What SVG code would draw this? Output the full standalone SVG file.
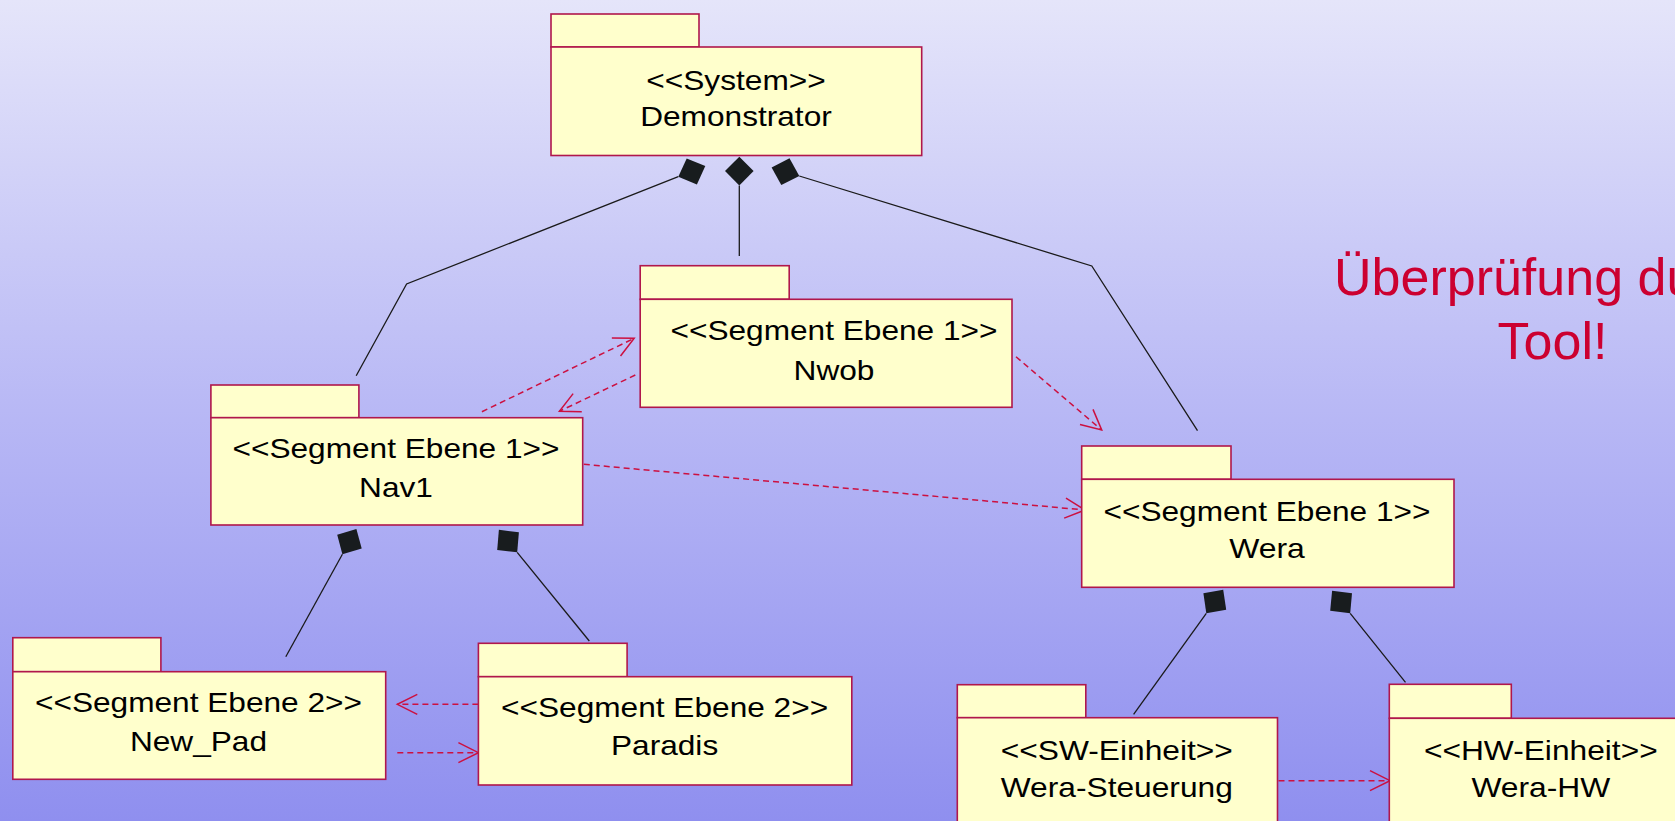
<svg xmlns="http://www.w3.org/2000/svg" width="1675" height="821" viewBox="0 0 1675 821">
  <defs>
    <linearGradient id="bg" x1="0" y1="0" x2="0" y2="1">
      <stop offset="0" stop-color="#e5e5fa"/>
      <stop offset="0.5" stop-color="#b8b8f5"/>
      <stop offset="1" stop-color="#8f8fef"/>
    </linearGradient>
    <marker id="open" markerUnits="userSpaceOnUse" viewBox="-22 -12 24 24" markerWidth="24" markerHeight="24" refX="0" refY="0" orient="auto" overflow="visible">
      <path d="M-20,-10 L0,0 L-20,10" fill="none" stroke="#cc1040" stroke-width="1.5"/>
    </marker>
    <style>
      .pkg { fill: #ffffcc; stroke: #b0174c; stroke-width: 1.6; }
      .lbl { font-family: "Liberation Sans", Arial, sans-serif; font-size: 28.5px; fill: #000; text-anchor: middle; }
      .comp { fill: none; stroke: #1a1a1a; stroke-width: 1.3; }
      .dia { fill: #181c1e; stroke: none; }
      .dep { fill: none; stroke: #cc1040; stroke-width: 1.5; stroke-dasharray: 6 4; marker-end: url(#open); }
      .note { font-family: "Liberation Sans", Arial, sans-serif; font-size: 52px; fill: #cc0030; }
    </style>
  </defs>

  <rect x="0" y="0" width="1675" height="821" fill="url(#bg)"/>

  <!-- composition links with filled diamonds at the owning package -->
  <g id="connectors">
    <polyline class="comp" points="678.3,176.7 406.6,284 356.2,375.7"/>
    <polyline class="comp" points="739.3,185.5 739.3,256"/>
    <polyline class="comp" points="799.3,176 1091.8,266 1197.5,430.7"/>
    <polyline class="comp" points="342.4,554.3 285.8,656.7"/>
    <polyline class="comp" points="517.2,552.3 589.3,641"/>
    <polyline class="comp" points="1206.3,613.3 1133.6,714.3"/>
    <polyline class="comp" points="1350.2,613.3 1405.5,682.3"/>

    <polygon class="dia" points="705.3,166.1 696.9,184.4 678.3,176.7 686.7,158.4"/>
    <polygon class="dia" points="739.3,156.7 753.6,171.1 739.3,185.5 725,171.1"/>
    <polygon class="dia" points="771.6,167.5 789.5,158.3 799.3,176 781.3,185.1"/>
    <polygon class="dia" points="356.4,528.9 361.7,548.4 342.4,554.3 337.2,534.8"/>
    <polygon class="dia" points="498.9,529.8 518.9,532.2 517.2,552.3 497.2,549.9"/>
    <polygon class="dia" points="1223.2,589.8 1226.2,609.7 1206.3,613.3 1203.4,593.3"/>
    <polygon class="dia" points="1332.1,590.7 1352,593.3 1350.2,613.3 1330.2,610.8"/>

    <!-- dependencies -->
    <line class="dep" x1="481.9" y1="411.7" x2="634.2" y2="338.3"/>
    <line class="dep" x1="635.3" y1="375" x2="559.4" y2="411.3"/>
    <line class="dep" x1="1016" y1="356.7" x2="1101.7" y2="430"/>
    <line class="dep" x1="583.8" y1="464.3" x2="1085" y2="510"/>
    <line class="dep" x1="478.4" y1="704.3" x2="397.3" y2="704.3"/>
    <line class="dep" x1="397.3" y1="752.7" x2="478.4" y2="752.7"/>
    <line class="dep" x1="1278.5" y1="780.7" x2="1390" y2="780.7"/>
  </g>

  <g id="demonstrator">
    <rect class="pkg" x="551" y="14" width="148" height="33"/>
    <rect class="pkg" x="551" y="47" width="370.7" height="108.5"/>
    <text class="lbl" x="736" y="90" textLength="179.4" lengthAdjust="spacingAndGlyphs">&lt;&lt;System&gt;&gt;</text>
    <text class="lbl" x="736" y="126" textLength="191.6" lengthAdjust="spacingAndGlyphs">Demonstrator</text>
  </g>

  <g id="nwob">
    <rect class="pkg" x="640.2" y="265.7" width="149" height="33.6"/>
    <rect class="pkg" x="640.2" y="299.3" width="371.8" height="108"/>
    <text class="lbl" x="834" y="340" textLength="327.1" lengthAdjust="spacingAndGlyphs">&lt;&lt;Segment Ebene 1&gt;&gt;</text>
    <text class="lbl" x="834" y="380" textLength="80.9" lengthAdjust="spacingAndGlyphs">Nwob</text>
  </g>

  <g id="nav1">
    <rect class="pkg" x="210.9" y="385" width="148" height="32.7"/>
    <rect class="pkg" x="210.9" y="417.7" width="371.8" height="107.3"/>
    <text class="lbl" x="396" y="458.3" textLength="327.1" lengthAdjust="spacingAndGlyphs">&lt;&lt;Segment Ebene 1&gt;&gt;</text>
    <text class="lbl" x="396" y="496.7" textLength="73.8" lengthAdjust="spacingAndGlyphs">Nav1</text>
  </g>

  <g id="wera">
    <rect class="pkg" x="1081.7" y="446" width="149.3" height="33.3"/>
    <rect class="pkg" x="1081.7" y="479.3" width="372.3" height="108"/>
    <text class="lbl" x="1267" y="521" textLength="327.1" lengthAdjust="spacingAndGlyphs">&lt;&lt;Segment Ebene 1&gt;&gt;</text>
    <text class="lbl" x="1267" y="558.3" textLength="75.6" lengthAdjust="spacingAndGlyphs">Wera</text>
  </g>

  <g id="new-pad">
    <rect class="pkg" x="12.8" y="637.7" width="148.1" height="34"/>
    <rect class="pkg" x="12.8" y="671.7" width="372.9" height="107.6"/>
    <text class="lbl" x="198.5" y="711.7" textLength="327.1" lengthAdjust="spacingAndGlyphs">&lt;&lt;Segment Ebene 2&gt;&gt;</text>
    <text class="lbl" x="198.5" y="751" textLength="137.1" lengthAdjust="spacingAndGlyphs">New_Pad</text>
  </g>

  <g id="paradis">
    <rect class="pkg" x="478.4" y="643.3" width="148.7" height="33.4"/>
    <rect class="pkg" x="478.4" y="676.7" width="373.4" height="108.3"/>
    <text class="lbl" x="664.6" y="716.7" textLength="327.1" lengthAdjust="spacingAndGlyphs">&lt;&lt;Segment Ebene 2&gt;&gt;</text>
    <text class="lbl" x="664.6" y="755" textLength="107.2" lengthAdjust="spacingAndGlyphs">Paradis</text>
  </g>

  <g id="wera-steuerung">
    <rect class="pkg" x="957.3" y="684.7" width="128.5" height="33"/>
    <rect class="pkg" x="957.3" y="717.7" width="320.2" height="120"/>
    <text class="lbl" x="1116.8" y="760" textLength="232.1" lengthAdjust="spacingAndGlyphs">&lt;&lt;SW-Einheit&gt;&gt;</text>
    <text class="lbl" x="1116.8" y="797" textLength="232.1" lengthAdjust="spacingAndGlyphs">Wera-Steuerung</text>
  </g>

  <g id="wera-hw">
    <rect class="pkg" x="1389.3" y="684.3" width="122" height="34"/>
    <rect class="pkg" x="1389.3" y="718.3" width="320" height="120"/>
    <text class="lbl" x="1540.8" y="760" textLength="233.8" lengthAdjust="spacingAndGlyphs">&lt;&lt;HW-Einheit&gt;&gt;</text>
    <text class="lbl" x="1540.8" y="797" textLength="138.8" lengthAdjust="spacingAndGlyphs">Wera-HW</text>
  </g>

  <g id="note">
    <text class="note" x="1334" y="295">Überprüfung du</text>
    <text class="note" x="1552.5" y="359.3" text-anchor="middle">Tool!</text>
  </g>
</svg>
